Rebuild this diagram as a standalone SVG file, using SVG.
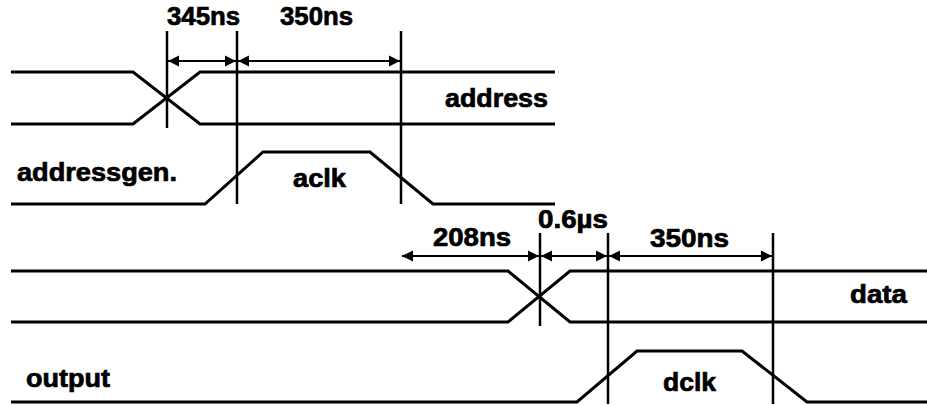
<svg xmlns="http://www.w3.org/2000/svg" width="927" height="405" viewBox="0 0 927 405">
<defs>
<style>
.sig{fill:none;stroke:#000;stroke-width:3;stroke-linejoin:miter}
.mark{fill:none;stroke:#000;stroke-width:2.5}
.dim{fill:none;stroke:#000;stroke-width:2;marker-start:url(#ah);marker-end:url(#ah)}
text{font-family:"Liberation Sans",Arial,sans-serif;font-weight:bold;font-size:25.5px;fill:#000;stroke:#000;stroke-width:0.7}
</style>
<marker id="ah" markerUnits="userSpaceOnUse" markerWidth="12" markerHeight="12" viewBox="0 0 12 12" refX="11" refY="6" orient="auto-start-reverse">
<path d="M0,0.5 L11,6 L0,11.5 Z" fill="#000"/>
</marker>
</defs>
<rect width="927" height="405" fill="#fff"/>

<g id="address">
<path class="sig" d="M11,72 H133 L200,124 H555"/>
<path class="sig" d="M11,124 H133 L200,72 H555"/>
<text x="445" y="107" textLength="103" lengthAdjust="spacingAndGlyphs">address</text>
</g>

<g id="aclk">
<path class="sig" d="M11,204 H205 L263,152 H370 L433,204 H555"/>
<text x="17" y="181" textLength="160" lengthAdjust="spacingAndGlyphs">addressgen.</text>
<text x="293" y="187" textLength="53" lengthAdjust="spacingAndGlyphs">aclk</text>
</g>

<g id="data">
<path class="sig" d="M11,271 H508 L570,322 H927"/>
<path class="sig" d="M11,322 H508 L570,271 H927"/>
<text x="850" y="303" textLength="57" lengthAdjust="spacingAndGlyphs">data</text>
</g>

<g id="dclk">
<path class="sig" d="M11,402 H577 L637,351 H742 L807,402 H927"/>
<text x="26" y="387" textLength="84" lengthAdjust="spacingAndGlyphs">output</text>
<text x="663" y="391" textLength="53" lengthAdjust="spacingAndGlyphs">dclk</text>
</g>

<g id="connectors">
<path class="mark" d="M167,31 V128"/>
<path class="mark" d="M237,31 V204"/>
<path class="mark" d="M401,31 V204"/>
<path class="mark" d="M540,233 V326"/>
<path class="mark" d="M608,233 V404"/>
<path class="mark" d="M773,233 V404"/>
<path class="dim" d="M168,61 H236"/>
<path class="dim" d="M238,61 H400"/>
<path class="dim" d="M402,256 H539"/>
<path class="dim" d="M541,256 H607"/>
<path class="dim" d="M609,256 H772"/>
</g>

<g id="labels">
<text x="167" y="25" textLength="73" lengthAdjust="spacingAndGlyphs">345ns</text>
<text x="280" y="25" textLength="73" lengthAdjust="spacingAndGlyphs">350ns</text>
<text x="433" y="246" textLength="78" lengthAdjust="spacingAndGlyphs">208ns</text>
<text x="538" y="228" textLength="70" lengthAdjust="spacingAndGlyphs">0.6µs</text>
<text x="650" y="247" textLength="79" lengthAdjust="spacingAndGlyphs">350ns</text>
</g>
</svg>
